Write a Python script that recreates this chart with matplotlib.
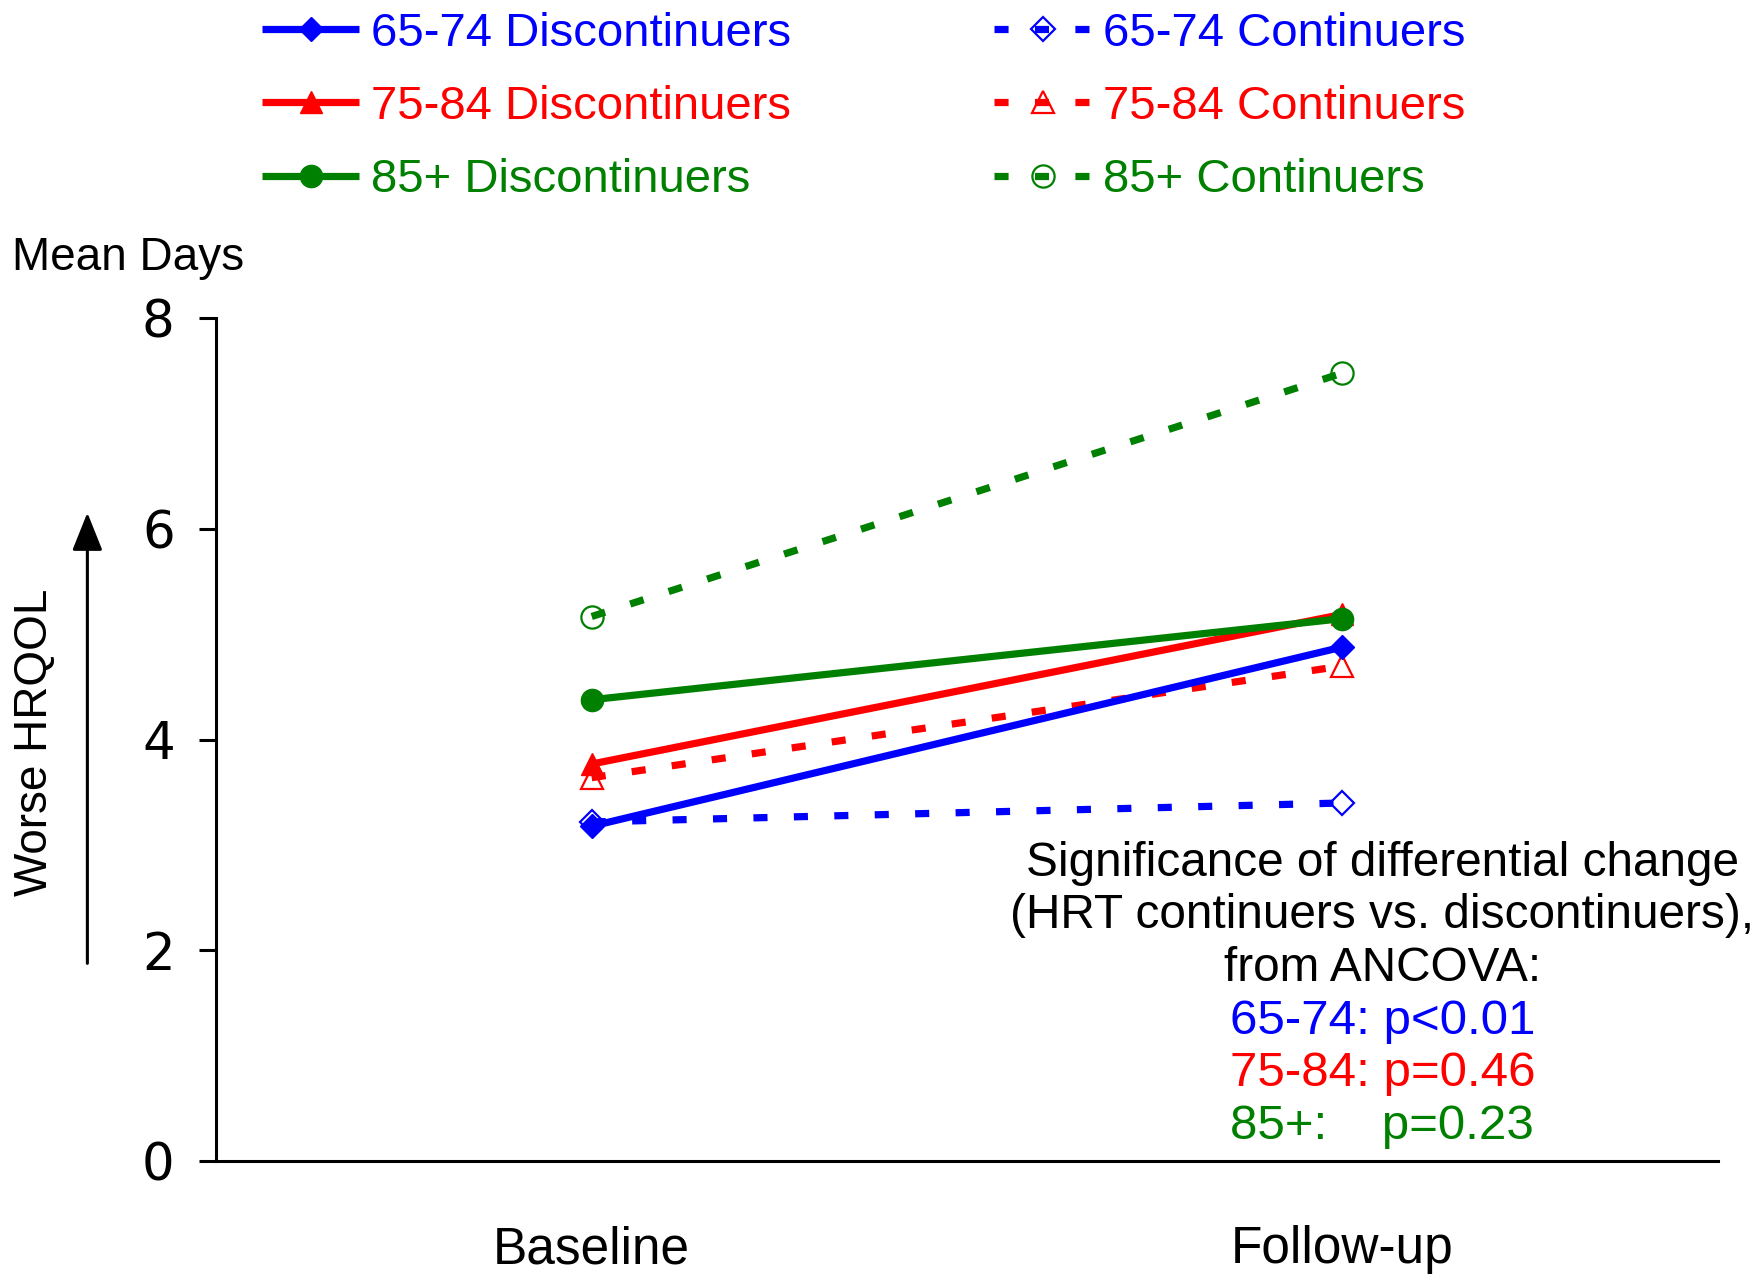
import matplotlib
matplotlib.use("Agg")
import matplotlib.pyplot as plt

# data
timepoints = ["Baseline", "Follow-up"]
groups = ["65-74", "75-84", "85+"]
colors = ["#0000ff", "#ff0000", "#008000"]
markers = ["D", "^", "o"]
disc_values = [[3.18, 4.88], [3.77, 5.19], [4.38, 5.15]]
cont_values = [[3.22, 3.40], [3.64, 4.70], [5.17, 7.48]]
p_labels = ["65-74: p<0.01", "75-84: p=0.46", "85+:    p=0.23"]
y_ticks = [0, 2, 4, 6, 8]

FONT = ["Liberation Sans", "DejaVu Sans"]
msize = {"D": 12.5, "^": 16, "o": 16}

fig = plt.figure(figsize=(17.58, 12.8), dpi=100)
ax = fig.add_axes([0.1231, 0.0928, 0.8539, 0.6585])

x = list(range(len(timepoints)))
disc_handles = []
cont_handles = []
for i, g in enumerate(groups):
    m = markers[i]
    hc, = ax.plot(x, cont_values[i], color=colors[i], lw=5.2, dashes=(1.95, 3.65),
                  dash_capstyle="butt", marker=m, ms=msize[m], markerfacecolor="none",
                  markeredgewidth=1.6, clip_on=False, zorder=2 + i,
                  label=g + " Continuers")
    hd, = ax.plot(x, disc_values[i], color=colors[i], lw=5.2, solid_capstyle="butt",
                  marker=m, ms=msize[m], clip_on=False, zorder=5 + i,
                  label=g + " Discontinuers")
    disc_handles.append(hd)
    cont_handles.append(hc)

ax.set_xlim(-0.5, 1.5)
ax.set_ylim(0, 8)
ax.set_yticks(y_ticks)
ax.set_xticks(x)
ax.set_xticklabels(timepoints, fontsize=37, family=FONT)
ax.set_yticklabels([str(v) for v in y_ticks], fontsize=37, family="DejaVu Sans")
ax.tick_params(axis="y", length=12, width=2.2, pad=18)
ax.tick_params(axis="x", length=0, pad=46)
for s in ["top", "right"]:
    ax.spines[s].set_visible(False)
for s in ["left", "bottom"]:
    ax.spines[s].set_linewidth(2.2)

# legends, one per column
leg_kw = dict(frameon=False, handlelength=2.05, handletextpad=0.25,
              labelspacing=0.62, borderpad=0, borderaxespad=0, labelcolor="linecolor",
              prop={"family": FONT, "size": 34}, loc="upper left")
fig.legend(handles=disc_handles, bbox_to_anchor=(0.1492, 0.991), **leg_kw)
fig.legend(handles=cont_handles, bbox_to_anchor=(0.5655, 0.991), **leg_kw)

# axis annotations
fig.text(0.007, 0.7986, "Mean Days", fontsize=33, family=FONT, ha="left", va="center")
fig.text(0.0198, 0.4203, "Worse HRQOL", fontsize=33, rotation=90,
         family=FONT, ha="center", va="center")
fig.add_artist(matplotlib.patches.FancyArrowPatch(
    (0.0497, 0.2452), (0.0497, 0.6016), transform=fig.transFigure,
    arrowstyle="-|>,head_length=1.3,head_width=0.52", mutation_scale=18,
    lw=2.2, color="black"))

# significance annotation
note_lines = ["Significance of differential change",
              "(HRT continuers vs. discontinuers),",
              "from ANCOVA:"]
y_rows = [0.3257, 0.2846, 0.2434, 0.2023, 0.1611, 0.1200]
for k, line in enumerate(note_lines):
    fig.text(0.7864, y_rows[k], line, fontsize=34.4, family=FONT, ha="center", va="center")
for k, line in enumerate(p_labels):
    fig.text(0.6996, y_rows[3 + k], line, fontsize=35.5, family=FONT, ha="left",
             va="center", color=colors[k])

fig.savefig("out.png", dpi=100)
